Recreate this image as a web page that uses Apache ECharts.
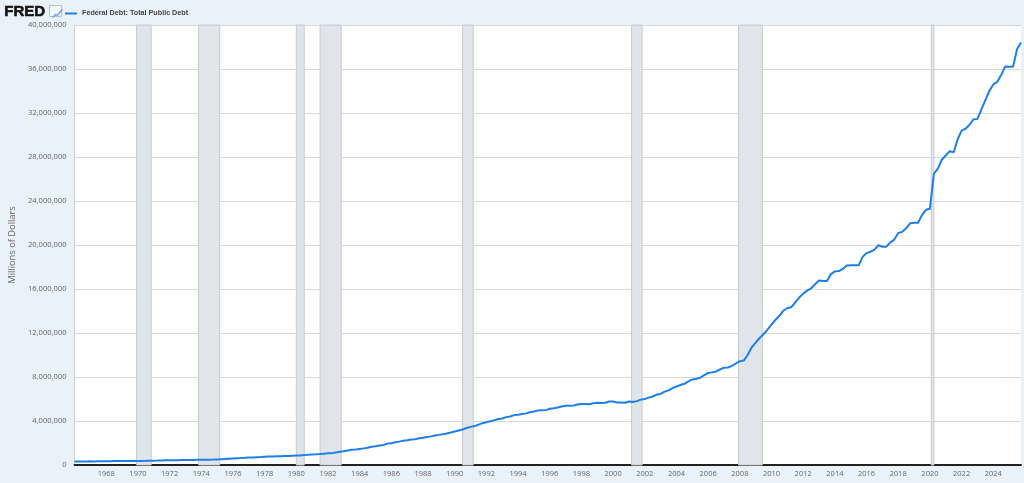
<!DOCTYPE html>
<html>
<head>
<meta charset="utf-8">
<script src="https://cdn.jsdelivr.net/npm/echarts@6/dist/echarts.min.js"></script>
<style>
  html, body { margin: 0; padding: 0; background: #e9f1f9; }
  #chart { width: 1024px; height: 483px; }
</style>
</head>
<body>
<div id="chart"></div>
<script>
// Quarterly series, first observation 1966 Q1 (millions of dollars)
const startYear = 1966;
const seriesName = 'Federal Debt: Total Public Debt';
const debtValues = [
  320999, 316097, 324748, 329319,
  330947, 322893, 338030, 344663,
  344792, 348297, 355200, 358029,
  359452, 353720, 363144, 368226,
  371000, 370919, 379561, 389158,
  390000, 398130, 412000, 424131,
  427260, 427751, 436000, 449298,
  457000, 458142, 462000, 469898,
  474000, 475060, 482000, 492665,
  509000, 533189, 554000, 576649,
  599000, 620433, 634000, 653544,
  680000, 685200, 709000, 718943,
  749000, 771544, 780000, 789207,
  796000, 812000, 826000, 845116,
  863000, 872000, 908000, 930210,
  964000, 971000, 998000, 1028729,
  1058000, 1079000, 1142000, 1197073,
  1244000, 1319000, 1377000, 1410702,
  1463000, 1512000, 1572000, 1662966,
  1709000, 1775000, 1823000, 1945941,
  1986000, 2060000, 2125000, 2214834,
  2246000, 2309000, 2350000, 2431715,
  2487000, 2547000, 2602000, 2684392,
  2739000, 2799000, 2857000, 2953003,
  3052000, 3143000, 3233000, 3364820,
  3465000, 3538000, 3665000, 3801698,
  3881000, 3984000, 4065000, 4177009,
  4230000, 4352000, 4411000, 4535687,
  4575000, 4645000, 4693000, 4800150,
  4864000, 4951000, 4974000, 4988665,
  5117000, 5161000, 5225000, 5323165,
  5380000, 5376000, 5413000, 5502388,
  5542000, 5548000, 5526000, 5614217,
  5651000, 5638000, 5656000, 5776091,
  5773000, 5685000, 5674000, 5662216,
  5773000, 5726000, 5807000, 5943439,
  6006000, 6126000, 6228000, 6405707,
  6460000, 6670000, 6783000, 6998000,
  7131000, 7274000, 7379000, 7596000,
  7777000, 7836000, 7933000, 8170000,
  8371000, 8420000, 8507000, 8680000,
  8849000, 8867000, 9008000, 9229000,
  9437000, 9492000, 10025000, 10700000,
  11127000, 11545000, 11910000, 12311000,
  12773000, 13202000, 13562000, 14025000,
  14270000, 14343000, 14790000, 15223000,
  15582000, 15856000, 16066000, 16433000,
  16771000, 16738000, 16738000, 17352000,
  17602000, 17632000, 17824000, 18141000,
  18152000, 18152000, 18153000, 18922000,
  19264000, 19382000, 19573000, 19977000,
  19846000, 19845000, 20245000, 20493000,
  21090000, 21195000, 21516000, 21974000,
  22028000, 22023000, 22719000, 23201000,
  23300000, 26477000, 26945000, 27748000,
  28133000, 28529000, 28428000, 29617000,
  30401000, 30568000, 30929000, 31420000,
  31458000, 32333000, 33167000, 34001000,
  34587000, 34832000, 35465000, 36219000,
  36215000, 36214000, 37800000, 38400000
];
// Recession periods (year-month)
const recessionStarts = ['1969-12', '1973-11', '1980-01', '1981-07', '1990-07', '2001-03', '2007-12', '2020-02'];
const recessionEnds   = ['1970-11', '1975-03', '1980-07', '1982-11', '1991-03', '2001-11', '2009-06', '2020-04'];
// Axis tick values
const yTickMax = 40000000;
const yTickStep = 4000000;
const xTickStep = 2;

function ymToYear(s) {
  const [y, m] = s.split('-').map(Number);
  return y + (m - 1) / 12;
}
function commas(n) {
  return String(n).replace(/\B(?=(\d{3})+(?!\d))/g, ',');
}

const points = debtValues.map((v, i) => [startYear + i / 4, v]);
const lastX = startYear + (debtValues.length - 1) / 4;
const recessionAreas = recessionStarts.map((s, i) => [
  { xAxis: ymToYear(s) },
  { xAxis: ymToYear(recessionEnds[i]) }
]);

const chart = echarts.init(document.getElementById('chart'), null, { renderer: 'canvas' });
chart.setOption({
  backgroundColor: '#e9f1f9',
  animation: false,
  textStyle: { fontFamily: '"Open Sans", "Liberation Sans", sans-serif' },
  grid: {
    left: 73, right: 0, top: 25, bottom: 18,
    show: true, backgroundColor: '#ffffff', borderWidth: 0
  },
  legend: {
    data: [seriesName],
    left: 60, top: 5,
    icon: 'rect', itemWidth: 12, itemHeight: 2,
    textStyle: { fontSize: 7.2, fontWeight: 'bold', color: '#444', fontFamily: '"Liberation Sans", Arial, sans-serif' }
  },
  graphic: [
    {
      type: 'text', left: 4, top: 4,
      style: {
        text: 'FRED', font: 'bold 15px "Liberation Sans", Arial, sans-serif',
        fill: '#151515', stroke: '#151515', lineWidth: 0.6
      }
    },
    {
      type: 'rect', left: 49, top: 5,
      shape: { width: 12, height: 11 },
      style: { fill: '#f2f7fc', stroke: '#a9c4e2', lineWidth: 1 }
    },
    {
      type: 'polyline', left: 50, top: 7,
      shape: { points: [[0, 8], [3, 5], [5, 6], [8, 2], [10, 0]] },
      style: { stroke: '#5d9ce0', lineWidth: 1.2, fill: null }
    }
  ],
  xAxis: {
    type: 'value',
    min: startYear, max: lastX, interval: xTickStep,
    axisLine: { show: true, lineStyle: { color: '#222', width: 2 } },
    axisTick: { show: false },
    splitLine: { show: false },
    axisLabel: {
      color: '#666', fontSize: 7.5, margin: 5,
      formatter: v => (Number.isInteger(v) && v > startYear && v % 2 === 0) ? String(v) : ''
    }
  },
  yAxis: {
    type: 'value',
    min: 0, max: yTickMax, interval: yTickStep,
    name: 'Millions of Dollars',
    nameLocation: 'middle', nameGap: 55,
    nameTextStyle: { color: '#666', fontSize: 9.3 },
    axisLine: { show: true, lineStyle: { color: '#d0d0d0', width: 1 } },
    axisTick: { show: false },
    splitLine: { show: true, lineStyle: { color: '#d9d9d9', width: 1 } },
    axisLabel: {
      color: '#666', fontSize: 7.6, margin: 8,
      verticalAlign: 'middle', padding: [0, 0, 5, 0],
      formatter: v => commas(v)
    }
  },
  series: [{
    name: seriesName,
    type: 'line',
    data: points,
    showSymbol: false,
    symbol: 'none',
    lineStyle: { color: '#1e80e6', width: 2 },
    itemStyle: { color: '#1e80e6' },
    z: 5,
    markArea: {
      silent: true,
      itemStyle: { color: '#e1e5ea', borderColor: '#c6cacf', borderWidth: 1 },
      data: recessionAreas
    }
  }]
});
</script>
</body>
</html>
